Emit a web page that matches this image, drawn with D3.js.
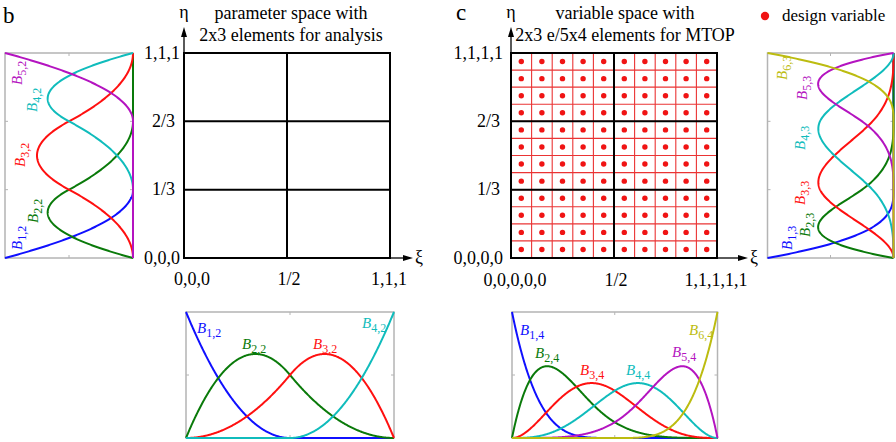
<!DOCTYPE html>
<html><head><meta charset="utf-8">
<script src="https://cdn.jsdelivr.net/npm/d3@7"></script>
<style>body{margin:0;background:#fff}svg{display:block}text{font-family:'Liberation Serif','Times New Roman',serif}</style>
</head><body>
<script>
// ---------------- data ----------------
const knotsXiB  = [0,0,0,0.5,1,1,1];           // quadratic in xi  -> B1,2..B4,2
const knotsEtaB = [0,0,0,1/3,2/3,1,1,1];       // quadratic in eta -> B1,2..B5,2
const knotsXiC  = [0,0,0,0,0,0.5,1,1,1,1,1];   // quartic in xi    -> B1,4..B6,4
const knotsEtaC = [0,0,0,0,1/3,2/3,1,1,1,1];   // cubic in eta     -> B1,3..B6,3
const degXiB = 2, degEtaB = 2, degXiC = 4, degEtaC = 3;
const elemBreaksXi  = [0, 0.5, 1];
const elemBreaksEta = [0, 1/3, 2/3, 1];
const subPerElemXi = 5, subPerElemEta = 4;
const xTickLabelsB = ["0,0,0", "1/2", "1,1,1"];
const yTickLabelsB = ["0,0,0", "1/3", "2/3", "1,1,1"];
const xTickLabelsC = ["0,0,0,0,0", "1/2", "1,1,1,1,1"];
const yTickLabelsC = ["0,0,0,0", "1/3", "2/3", "1,1,1,1"];
const titleB = ["parameter space with", "2x3 elements for analysis"];
const titleC = ["variable space with", "2x3 e/5x4 elements for MTOP"];
const legendText = "design variable";
const basisColors = ["#1010ff", "#0a7a0a", "#ff1010", "#10bcbc", "#b414c0", "#bcbc10"];

// ---------------- layout ----------------
const W = 896, H = 442;
const FONT = "'Liberation Serif','Times New Roman',serif";
const frameCol = "#b4b4b4";
const L = {
  b: { grid: {x0:184, x1:390, y0:53, y1:258}, side: {x0:5, x1:133}, bottom: {x0:186, x1:394, y0:312, y1:438},
       etaTip: 27, xiTip: 413, xiText: 415, tupleOff: 4, fracOff: 9, firstXdx: 8, xLabY: 285,
       titleX: 291, letter: {t:"b", x:3, y:23},
       sideLabels: [[22,250],[38,223],[25,167],[37,112],[22,85]],
       bottomLabels: [[197,333],[242,349],[313,349],[362,328]] },
  c: { grid: {x0:511, x1:717, y0:53, y1:258}, side: {x0:767.5, x1:893.5}, bottom: {x0:512, x1:717.5, y0:312, y1:438},
       etaTip: 27, xiTip: 748, xiText: 750, tupleOff: 8, fracOff: 11, firstXdx: 4, xLabY: 286,
       titleX: 625, letter: {t:"c", x:456, y:20},
       sideLabels: [[792,250],[810,237],[805,205],[805,150],[807,100],[787,80]],
       bottomLabels: [[520,335],[535,358],[580,375],[626,375],[672,357],[689,335]] }
};

// ---------------- B-spline (Cox-de Boor) ----------------
function N(knots, i, p, t) {
  if (p === 0) {
    if (t >= knots[i] && t < knots[i+1]) return 1;
    return 0;
  }
  let a = 0, b = 0;
  const d1 = knots[i+p] - knots[i], d2 = knots[i+p+1] - knots[i+1];
  if (d1 > 0) a = (t - knots[i]) / d1 * N(knots, i, p-1, t);
  if (d2 > 0) b = (knots[i+p+1] - t) / d2 * N(knots, i+1, p-1, t);
  return a + b;
}
function basisCurves(knots, p) {
  const n = knots.length - p - 1;
  const ts = d3.range(0, 401).map(k => Math.min(k / 400, 1 - 1e-9));
  return d3.range(n).map(i => ts.map(t => ({t: Math.max(0, Math.min(1, Math.round(t*1e6)/1e6)), v: N(knots, i, p, t)})));
}

const svg = d3.select("body").append("svg").attr("width", W).attr("height", H)
  .attr("font-family", FONT);

function txt(g) { return g.append("text").attr("font-family", FONT); }

function labelB(g, x, y, idx, sub, color, rotate) {
  const t = txt(g).attr("fill", color)
    .attr("transform", `translate(${x},${y})` + (rotate ? " rotate(-90)" : ""));
  t.append("tspan").attr("font-style", "italic").attr("font-size", 15).text("B");
  t.append("tspan").attr("font-size", 12).attr("dy", 4).text(`${idx},${sub}`);
}

function frame(g, x0, x1, y0, y1, ticksX, ticksY) {
  g.append("rect").attr("x", x0).attr("y", y0).attr("width", x1 - x0).attr("height", y1 - y0)
    .attr("fill", "none").attr("stroke", frameCol).attr("stroke-width", 1.5);
  ticksX.forEach(x => {
    g.append("line").attr("x1", x).attr("x2", x).attr("y1", y0).attr("y2", y0 + 3).attr("stroke", frameCol);
    g.append("line").attr("x1", x).attr("x2", x).attr("y1", y1).attr("y2", y1 - 3).attr("stroke", frameCol);
  });
  ticksY.forEach(y => {
    g.append("line").attr("x1", x0).attr("x2", x0 + 3).attr("y1", y).attr("y2", y).attr("stroke", frameCol);
    g.append("line").attr("x1", x1).attr("x2", x1 - 3).attr("y1", y).attr("y2", y).attr("stroke", frameCol);
  });
}

function drawPanel(key, knotsXi, pXi, knotsEta, pEta, xLabs, yLabs, title, design) {
  const cfg = L[key], G = cfg.grid;
  const g = svg.append("g");
  const xs = d3.scaleLinear().domain([0, 1]).range([G.x0, G.x1]);
  const ys = d3.scaleLinear().domain([0, 1]).range([G.y1, G.y0]);

  txt(g).attr("x", cfg.letter.x).attr("y", cfg.letter.y).attr("font-size", 23).text(cfg.letter.t);

  title.forEach((s, i) => txt(g).attr("x", cfg.titleX).attr("y", 19 + 22 * i)
    .attr("text-anchor", "middle").attr("font-size", 18).text(s));

  if (design) {
    const nx = (elemBreaksXi.length - 1) * subPerElemXi, ny = (elemBreaksEta.length - 1) * subPerElemEta;
    const fx = d3.range(nx + 1).map(i => i / nx), fy = d3.range(ny + 1).map(j => j / ny);
    fx.forEach(f => g.append("line").attr("x1", xs(f)).attr("x2", xs(f)).attr("y1", ys(0)).attr("y2", ys(1))
      .attr("stroke", "#ea3434").attr("stroke-width", 1.1));
    fy.forEach(f => g.append("line").attr("y1", ys(f)).attr("y2", ys(f)).attr("x1", xs(0)).attr("x2", xs(1))
      .attr("stroke", "#ea3434").attr("stroke-width", 1.1));
    const centers = [];
    d3.range(nx).forEach(i => d3.range(ny).forEach(j => centers.push([(i + 0.5) / nx, (j + 0.5) / ny])));
    g.selectAll(null).data(centers).enter().append("circle")
      .attr("cx", d => xs(d[0])).attr("cy", d => ys(d[1])).attr("r", 2.7).attr("fill", "#f01414");
  }

  elemBreaksXi.forEach(f => g.append("line").attr("x1", xs(f)).attr("x2", xs(f)).attr("y1", ys(0) + 1).attr("y2", ys(1) - 1)
    .attr("stroke", "#000").attr("stroke-width", 2));
  elemBreaksEta.forEach(f => g.append("line").attr("y1", ys(f)).attr("y2", ys(f)).attr("x1", xs(0) - 1).attr("x2", xs(1) + 1)
    .attr("stroke", "#000").attr("stroke-width", 2));

  g.append("line").attr("x1", G.x0).attr("x2", G.x0).attr("y1", G.y0).attr("y2", cfg.etaTip + 6).attr("stroke", "#000").attr("stroke-width", 1.3);
  g.append("path").attr("d", `M${G.x0},${cfg.etaTip} L${G.x0 - 3},${cfg.etaTip + 10} L${G.x0 + 3},${cfg.etaTip + 10} Z`).attr("fill", "#000");
  g.append("line").attr("x1", G.x1).attr("x2", cfg.xiTip - 6).attr("y1", G.y1).attr("y2", G.y1).attr("stroke", "#000").attr("stroke-width", 1.3);
  g.append("path").attr("d", `M${cfg.xiTip},${G.y1} L${cfg.xiTip - 10},${G.y1 - 3} L${cfg.xiTip - 10},${G.y1 + 3} Z`).attr("fill", "#000");
  txt(g).attr("x", G.x0).attr("y", 18).attr("text-anchor", "middle").attr("font-size", 18).text("η");
  txt(g).attr("x", cfg.xiText).attr("y", 263).attr("font-size", 18).text("ξ");

  yLabs.forEach((s, i) => txt(g)
    .attr("x", G.x0 - (s.includes("/") ? cfg.fracOff : cfg.tupleOff))
    .attr("y", ys(elemBreaksEta[i]) + 5.5).attr("text-anchor", "end").attr("font-size", 18).text(s));
  xLabs.forEach((s, i) => txt(g)
    .attr("x", xs(elemBreaksXi[i]) + (i === 0 ? cfg.firstXdx : (i === 1 ? 2 : -1)))
    .attr("y", cfg.xLabY).attr("text-anchor", "middle").attr("font-size", 18).text(s));

  const S = cfg.side;
  const sv = d3.scaleLinear().domain([0, 1]).range([S.x1, S.x0]);
  frame(g, S.x0, S.x1, G.y0, G.y1, [sv(0.5)], [ys(1/3), ys(2/3)]);
  const etaCurves = basisCurves(knotsEta, pEta);
  const lineS = d3.line().x(d => sv(d.v)).y(d => ys(d.t));
  etaCurves.forEach((c, i) => g.append("path").attr("d", lineS(c)).attr("fill", "none")
    .attr("stroke", basisColors[i]).attr("stroke-width", 2));
  etaCurves.forEach((c, i) => labelB(g, cfg.sideLabels[i][0], cfg.sideLabels[i][1], i + 1, pEta, basisColors[i], true));

  const B = cfg.bottom;
  const bx = d3.scaleLinear().domain([0, 1]).range([B.x0, B.x1]);
  const by = d3.scaleLinear().domain([0, 1]).range([B.y1, B.y0]);
  frame(g, B.x0, B.x1, B.y0, B.y1, [bx(0.5)], [by(0.5)]);
  const xiCurves = basisCurves(knotsXi, pXi);
  const lineB = d3.line().x(d => bx(d.t)).y(d => by(d.v));
  xiCurves.forEach((c, i) => g.append("path").attr("d", lineB(c)).attr("fill", "none")
    .attr("stroke", basisColors[i]).attr("stroke-width", 2));
  xiCurves.forEach((c, i) => labelB(g, cfg.bottomLabels[i][0], cfg.bottomLabels[i][1], i + 1, pXi, basisColors[i], false));
}

drawPanel("b", knotsXiB, degXiB, knotsEtaB, degEtaB, xTickLabelsB, yTickLabelsB, titleB, false);
drawPanel("c", knotsXiC, degXiC, knotsEtaC, degEtaC, xTickLabelsC, yTickLabelsC, titleC, true);

svg.append("circle").attr("cx", 765).attr("cy", 16).attr("r", 4.2).attr("fill", "#f01414");
txt(svg).attr("x", 782).attr("y", 21).attr("font-size", 17).text(legendText);
</script>
</body></html>
